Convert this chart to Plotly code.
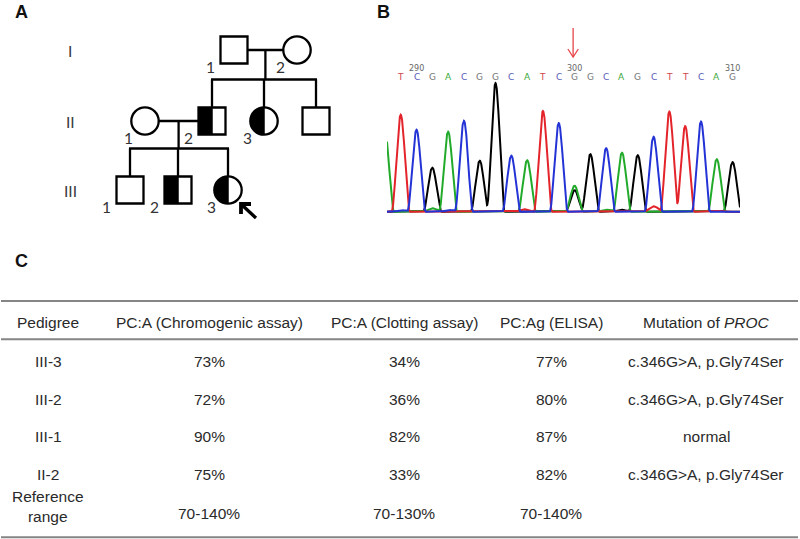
import numpy as np
import plotly.graph_objects as go

# ---------------- DATA ----------------
# Pedigree (panel A)
ped_id = ["I-1", "I-2", "II-1", "II-2", "II-3", "II-4", "III-1", "III-2", "III-3"]
ped_gen = [1, 1, 2, 2, 2, 2, 3, 3, 3]
ped_pos = [234, 297, 145, 212, 264, 316, 130, 178, 228]      # horizontal placement
ped_sex = ["M", "F", "F", "M", "F", "M", "M", "M", "F"]
ped_carrier = [0, 0, 0, 1, 1, 0, 0, 1, 1]
ped_num = ["1", "2", "1", "2", "3", "", "1", "2", "3"]
couples = [("I-1", "I-2"), ("II-1", "II-2")]
offspring = [["II-2", "II-3", "II-4"], ["III-1", "III-2", "III-3"]]
proband = "III-3"
gen_names = ["I", "II", "III"]
gen_level = [50, 121, 190]

# Chromatogram (panel B)
bases = list("TCGACGGCATCGGCAGCTTCAG")
base_start = 289                # position number of first called base
pos_labels = [290, 300, 310]
peak_base = ["A", "T", "C", "G", "A", "C", "G", "G", "C", "A", "T", "C", "G", "A",
             "G", "C", "A", "G", "C", "T", "T", "C", "A", "G"]
peak_pos = [-1, 0, 1, 2, 3, 4, 5, 6, 7, 8, 9, 10, 11, 11,
            12, 13, 14, 15, 16, 17, 18, 19, 20, 21]
peak_height = [800, 970, 820, 440, 800, 910, 510, 1285, 560, 515, 995, 885, 215, 260,
               575, 635, 590, 565, 750, 1000, 855, 885, 525, 495]
minor_base = ["A", "A", "T", "T", "T", "C", "C", "G", "A", "C", "T"]
minor_pos = [2.0, 13.0, 7.8, 9.0, 16.0, 0.1, 3.1, 14.0, 10.0, 19.0, 20.0]
minor_height = [35, 20, 25, 12, 55, 15, 18, 20, 10, 15, 10]
mutation_idx = 11

# Table (panel C)
col_header = ["Pedigree", "PC:A (Chromogenic assay)", "PC:A (Clotting assay)",
              "PC:Ag (ELISA)", "Mutation of <i>PROC</i>"]
row_pedigree = ["III-3", "III-2", "III-1", "II-2"]
chromogenic = [73, 72, 90, 75]
clotting = [34, 36, 82, 33]
elisa = [77, 80, 87, 82]
mutation = ["c.346G>A, p.Gly74Ser", "c.346G>A, p.Gly74Ser", "normal", "c.346G>A, p.Gly74Ser"]
ref_label = "Reference<br>range"
ref_range = ["70-140%", "70-130%", "70-140%", ""]

# ---------------- STYLE ----------------
W, H = 800, 539
TXT = "Liberation Sans, Arial, sans-serif"
PEDF = "Lato, Open Sans, sans-serif"
base_col = {"A": "#22aa2a", "C": "#2433d6", "G": "#000000", "T": "#e3242b"}
label_col = {"A": "#3aa83a", "C": "#5a5ab8", "G": "#777777", "T": "#d0474a"}

fig = go.Figure()
shapes, annos = [], []

# ---------------- PANEL A: pedigree ----------------
SQ = 27.0
R = 13.7
info = {}
for i, pid in enumerate(ped_id):
    info[pid] = dict(x=ped_pos[i], y=gen_level[ped_gen[i] - 1], sex=ped_sex[i],
                     car=ped_carrier[i], num=ped_num[i])

LW = 2.3


def half(P):
    return SQ / 2 if P["sex"] == "M" else R


for (a, b), kids in zip(couples, offspring):
    A_, B_ = info[a], info[b]
    left, right = (A_, B_) if A_["x"] < B_["x"] else (B_, A_)
    xl = left["x"] + half(left)
    xr = right["x"] - half(right)
    shapes.append(dict(type="line", xref="x", yref="y", x0=xl, x1=xr, y0=left["y"], y1=left["y"],
                       line=dict(color="black", width=LW)))
    xm = (xl + xr) / 2
    ky = info[kids[0]]["y"]
    sib_y = ky - SQ / 2 - 28
    shapes.append(dict(type="line", xref="x", yref="y", x0=xm, x1=xm, y0=left["y"], y1=sib_y,
                       line=dict(color="black", width=LW)))
    kx = [info[k]["x"] for k in kids]
    shapes.append(dict(type="line", xref="x", yref="y", x0=min(kx) - 1, x1=max(kx) + 1,
                       y0=sib_y, y1=sib_y, line=dict(color="black", width=LW)))
    for k in kids:
        K = info[k]
        shapes.append(dict(type="line", xref="x", yref="y", x0=K["x"], x1=K["x"], y0=sib_y,
                           y1=K["y"] - half(K), line=dict(color="black", width=LW)))

for pid in ped_id:
    P = info[pid]
    cx, cy = P["x"], P["y"]
    if P["sex"] == "M":
        if P["car"]:
            shapes.append(dict(type="rect", xref="x", yref="y", x0=cx - SQ / 2, x1=cx,
                               y0=cy - SQ / 2, y1=cy + SQ / 2, fillcolor="black",
                               line=dict(width=0)))
            shapes.append(dict(type="line", xref="x", yref="y", x0=cx, x1=cx,
                               y0=cy - SQ / 2, y1=cy + SQ / 2, line=dict(color="black", width=1.5)))
        shapes.append(dict(type="rect", xref="x", yref="y", x0=cx - SQ / 2, x1=cx + SQ / 2,
                           y0=cy - SQ / 2, y1=cy + SQ / 2, line=dict(color="black", width=LW)))
        dx = -24
    else:
        if P["car"]:
            th = np.linspace(np.pi / 2, 3 * np.pi / 2, 40)
            pts = [(cx + R * np.cos(t), cy - R * np.sin(t)) for t in th]
            path = "M %.2f,%.2f " % pts[0] + " ".join("L %.2f,%.2f" % p for p in pts[1:]) + " Z"
            shapes.append(dict(type="path", xref="x", yref="y", path=path, fillcolor="black",
                               line=dict(width=0)))
            shapes.append(dict(type="line", xref="x", yref="y", x0=cx, x1=cx,
                               y0=cy - R, y1=cy + R, line=dict(color="black", width=1.5)))
        shapes.append(dict(type="circle", xref="x", yref="y", x0=cx - R, x1=cx + R,
                           y0=cy - R, y1=cy + R, line=dict(color="black", width=LW)))
        dx = -17
    if P["num"]:
        annos.append(dict(x=cx + dx, y=cy + 17, xref="x", yref="y", text=P["num"], showarrow=False,
                          font=dict(family=PEDF, size=15.5, color="#333333"),
                          xanchor="center", yanchor="middle"))

for g, yv in zip(gen_names, gen_level):
    annos.append(dict(x=70, y=yv + 1, xref="x", yref="y", text=g, showarrow=False,
                      font=dict(family=PEDF, size=15.5, color="#3a3a3a"),
                      xanchor="center", yanchor="middle"))

# proband arrow (pointing up-left at the lower-right of the symbol)
Pp = info[proband]
tx, ty = Pp["x"] + 13, Pp["y"] + 14
shapes.append(dict(type="path", xref="x", yref="y",
                   path="M %.1f,%.1f L %.1f,%.1f" % (tx + 15, ty + 14, tx + 1, ty + 1),
                   line=dict(color="black", width=3.3)))
shapes.append(dict(type="path", xref="x", yref="y",
                   path="M %.1f,%.1f L %.1f,%.1f L %.1f,%.1f" % (tx, ty + 10, tx, ty, tx + 10, ty),
                   line=dict(color="black", width=3.8)))

# ---------------- PANEL B: chromatogram ----------------
XR = [-0.867, 21.47]
xs = np.linspace(XR[0], XR[1], 3000)
HW = 0.58                        # half-width of a peak (in base units)


def peak(x, p, h, w):
    d = np.abs(x - p)
    return np.where(d < w, h * np.cos(np.pi * d / (2 * w)) ** 2, 0.0)


for b in ["G", "A", "T", "C"]:
    y = np.zeros_like(xs)
    for pb, pp, ph in zip(peak_base, peak_pos, peak_height):
        if pb == b:
            y += peak(xs, pp, ph, HW)
    for pb, pp, ph in zip(minor_base, minor_pos, minor_height):
        if pb == b:
            y += peak(xs, pp, ph, HW * 1.1)
    fig.add_trace(go.Scatter(x=xs, y=y, mode="lines", xaxis="x2", yaxis="y2",
                             line=dict(color=base_col[b], width=2), hoverinfo="skip"))

for i, b in enumerate(bases):
    annos.append(dict(x=i, y=77, xref="x2", yref="y", text=b, showarrow=False,
                      font=dict(family="DejaVu Sans", size=9, color=label_col[b]),
                      xanchor="center", yanchor="middle"))
for p in pos_labels:
    annos.append(dict(x=p - base_start, y=68, xref="x2", yref="y", text=str(p),
                      showarrow=False, font=dict(family="DejaVu Sans", size=8, color="#666666"),
                      xanchor="center", yanchor="middle"))

RED = "#e8454a"
mx = mutation_idx - 0.09
shapes.append(dict(type="line", xref="x2", yref="y", x0=mx, x1=mx, y0=28, y1=57,
                   line=dict(color=RED, width=1.3)))
shapes.append(dict(type="path", xref="x2", yref="y",
                   path="M %.3f,49 L %.3f,57 L %.3f,49" % (mx - 0.33, mx, mx + 0.33),
                   line=dict(color=RED, width=1.3)))

# ---------------- PANEL C: table ----------------
col_x = [48, 209, 404, 551, 706]
hdr_y = 322.7
row_y = [361.7, 399, 436.5, 474.3]
ref_y = 506.5
ref_val_y = 513
TF = dict(family=TXT, size=15.5, color="#2a2a2a")

for cx, h in zip(col_x, col_header):
    annos.append(dict(x=cx, y=hdr_y, xref="x", yref="y", text=h, showarrow=False, font=TF,
                      xanchor="center", yanchor="middle"))
for r in range(len(row_pedigree)):
    vals = [row_pedigree[r], "%d%%" % chromogenic[r], "%d%%" % clotting[r], "%d%%" % elisa[r],
            mutation[r]]
    for cx, v in zip(col_x, vals):
        annos.append(dict(x=cx, y=row_y[r], xref="x", yref="y", text=v, showarrow=False, font=TF,
                          xanchor="center", yanchor="middle"))
annos.append(dict(x=col_x[0], y=ref_y, xref="x", yref="y", text=ref_label, showarrow=False,
                  font=TF, xanchor="center", yanchor="middle"))
for cx, v in zip(col_x[1:], ref_range):
    if v:
        annos.append(dict(x=cx, y=ref_val_y, xref="x", yref="y", text=v, showarrow=False, font=TF,
                          xanchor="center", yanchor="middle"))

for ly in [301, 339.3, 537.3]:
    shapes.append(dict(type="line", xref="x", yref="y", x0=1, x1=798, y0=ly, y1=ly,
                       line=dict(color="#858585", width=2)))

# Panel letters
for t, (lx, ly) in zip(["A", "B", "C"], [(21, 11.5), (383, 11.5), (21, 261)]):
    annos.append(dict(x=lx, y=ly, xref="x", yref="y", text="<b>%s</b>" % t, showarrow=False,
                      font=dict(family=TXT, size=18, color="#111111"),
                      xanchor="center", yanchor="middle"))

fig.add_trace(go.Scatter(x=[1], y=[1], mode="markers",
                         marker=dict(opacity=0), xaxis="x", yaxis="y", hoverinfo="skip"))

fig.update_layout(
    width=W, height=H, margin=dict(l=0, r=0, t=0, b=0),
    paper_bgcolor="white", plot_bgcolor="rgba(0,0,0,0)", showlegend=False,
    hovermode=False,
    xaxis=dict(range=[0, W], domain=[0, 1], visible=False, fixedrange=True),
    yaxis=dict(range=[H, 0], domain=[0, 1], visible=False, fixedrange=True),
    xaxis2=dict(range=XR, domain=[387 / W, 740 / W], visible=False,
                anchor="y2", fixedrange=True),
    yaxis2=dict(range=[-20, 1317], domain=[1 - 213.7 / H, 1 - 80 / H],
                visible=False, anchor="x2", fixedrange=True),
    shapes=shapes, annotations=annos,
)

# remove the default page margin so the 800x539 figure fills the window exactly
fig.write_html("out.html", config={"displayModeBar": False, "staticPlot": True},
               post_script="document.body.style.margin='0px';document.body.style.overflow='hidden';")
